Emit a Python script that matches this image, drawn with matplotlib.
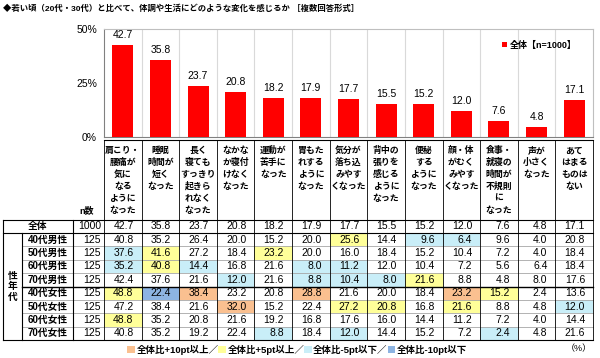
import matplotlib
matplotlib.use("Agg")
import matplotlib.pyplot as plt
from matplotlib.patches import Rectangle, Patch

FONT = ['Liberation Sans', 'Noto Sans CJK JP']
plt.rcParams['font.family'] = FONT

# ---- data ----
title = "◆若い頃（20代・30代）と比べて、体調や生活にどのような変化を感じるか ［複数回答形式］"
categories = [
    "肩こり・\n腰痛が\n気に\nなる\nように\nなった",
    "睡眠\n時間が\n短く\nなった",
    "長く\n寝ても\nすっきり\n起きら\nれなく\nなった",
    "なかな\nか寝付\nけなく\nなった",
    "運動が\n苦手に\nなった",
    "胃もた\nれする\nように\nなった",
    "気分が\n落ち込\nみやす\nくなった",
    "背中の\n張りを\n感じる\nように\nなった",
    "便秘\nする\nように\nなった",
    "顔・体\nがむく\nみやす\nくなった",
    "食事・\n就寝の\n時間が\n不規則\nに\nなった",
    "声が\n小さく\nなった",
    "あて\nはまる\nものは\nない",
]
total_label = "全体"
total_n = 1000
total = [42.7, 35.8, 23.7, 20.8, 18.2, 17.9, 17.7, 15.5, 15.2, 12.0, 7.6, 4.8, 17.1]
legend_label = "全体【n=1000】"

group_title = "性年代"
groups = ["40代男性", "50代男性", "60代男性", "70代男性",
          "40代女性", "50代女性", "60代女性", "70代女性"]
group_n = [125, 125, 125, 125, 125, 125, 125, 125]
m40 = [40.8, 35.2, 26.4, 20.0, 15.2, 20.0, 25.6, 14.4, 9.6, 6.4, 9.6, 4.0, 20.8]
m50 = [37.6, 41.6, 27.2, 18.4, 23.2, 20.0, 16.0, 18.4, 15.2, 10.4, 7.2, 4.0, 18.4]
m60 = [35.2, 40.8, 14.4, 16.8, 21.6, 8.0, 11.2, 12.0, 10.4, 7.2, 5.6, 6.4, 18.4]
m70 = [42.4, 37.6, 21.6, 12.0, 21.6, 8.8, 10.4, 8.0, 21.6, 8.8, 4.8, 8.0, 17.6]
f40 = [48.8, 22.4, 38.4, 23.2, 20.8, 28.8, 21.6, 20.0, 18.4, 23.2, 15.2, 2.4, 13.6]
f50 = [47.2, 38.4, 21.6, 32.0, 15.2, 22.4, 27.2, 20.8, 16.8, 21.6, 8.8, 4.8, 12.0]
f60 = [48.8, 35.2, 20.8, 21.6, 19.2, 16.8, 17.6, 16.0, 14.4, 11.2, 7.2, 4.0, 14.4]
f70 = [40.8, 35.2, 19.2, 22.4, 8.8, 18.4, 12.0, 14.4, 15.2, 7.2, 2.4, 4.8, 21.6]
group_values = [m40, m50, m60, m70, f40, f50, f60, f70]

cell_legend = ["全体比+10pt以上／", "全体比+5pt以上／", "全体比-5pt以下／", "全体比-10pt以下"]
unit_label = "（%）"

ORANGE = '#FAC090'
YELLOW = '#FFFF99'
LBLUE = '#C9EEF8'
BLUE = '#8DB4E2'
legend_colors = [ORANGE, YELLOW, LBLUE, BLUE]


def cell_color(v, base):
    d = round(v - base, 1)
    if d >= 10:
        return ORANGE
    if d >= 5:
        return YELLOW
    if d <= -10:
        return BLUE
    if d <= -5:
        return LBLUE
    return None


# ---- layout (pixels) ----
W, H = 600, 358
PL, PR, PT, PB = 104, 593, 29, 137
ncol = len(total)
colw = (PR - PL) / ncol
head_top = 140
body_top = 219.5
rowh = 13.4
x0, xsub, xn = 3, 22, 73

fig = plt.figure(figsize=(6, 3.58), dpi=100)

# ---- bar chart ----
ax = fig.add_axes([PL / W, 1 - PB / H, (PR - PL) / W, (PB - PT) / H])
bars = ax.bar(range(ncol), total, width=0.56, color='#FF0000', zorder=3)
ax.bar_label(bars, labels=[f"{v:.1f}" for v in total], padding=3.5, fontsize=7.5)
ax.set_xlim(-0.5, ncol - 0.5)
ax.set_ylim(0, 50)
ax.set_yticks([0, 25, 50])
ax.set_yticklabels(["0%", "25%", "50%"])
ax.tick_params(axis='y', length=0, pad=5, labelsize=7.5)
ax.set_xticks([])
for k in range(1, ncol):
    ax.axvline(k - 0.5, color='#D9D9D9', lw=0.8, zorder=1)
for s in ['left', 'bottom']:
    ax.spines[s].set_color('#808080')
for s in ['top', 'right']:
    ax.spines[s].set_color('#BFBFBF')
ax.legend([bars], [legend_label], loc='center right', bbox_to_anchor=(0.975, 0.85),
          frameon=False, handlelength=0.55, handleheight=0.55, handletextpad=0.3,
          borderpad=0, prop={'family': FONT, 'weight': 'bold', 'size': 6.5})

fig.text(3 / W, 1 - 9 / H, title, fontsize=6.0, fontweight='bold', va='center', ha='left')

# ---- table (pixel overlay) ----
tax = fig.add_axes([0, 0, 1, 1])
tax.set_xlim(0, W)
tax.set_ylim(H, 0)
tax.axis('off')

# header text
for j, cat in enumerate(categories):
    cx = PL + (j + 0.5) * colw
    for i, line in enumerate(cat.split("\n")):
        tax.text(cx, 150.5 + i * 11.9, line, ha='center', va='center',
                 fontsize=6.4, fontweight='bold')
tax.text(86.5, 211, "n数", ha='center', va='center', fontsize=6.5, fontweight='bold')

rows = [(total_label, total_n, total)] + list(zip(groups, group_n, group_values))
for r, (label, n, vals) in enumerate(rows):
    ytop = body_top + r * rowh
    yc = ytop + rowh / 2
    if r == 0:
        tax.text((x0 + xn) / 2, yc, label, ha='center', va='center', fontsize=7, fontweight='bold')
    else:
        tax.text((xsub + xn) / 2, yc, label, ha='center', va='center', fontsize=7, fontweight='bold')
    tax.text(PL - 3, yc, str(n), ha='right', va='center', fontsize=7.5)
    for j, v in enumerate(vals):
        xl = PL + j * colw
        if r > 0:
            c = cell_color(v, total[j])
            if c:
                tax.add_patch(Rectangle((xl, ytop), colw, rowh, facecolor=c, edgecolor='none', zorder=1))
        tax.text(xl + colw - 8, yc, f"{v:.1f}", ha='right', va='center', fontsize=7.5, zorder=3)

# group title (vertical)
gmid = body_top + rowh + len(groups) * rowh / 2
for i, ch in enumerate(group_title):
    tax.text((x0 + xsub) / 2, gmid + (i - 1) * 10, ch, ha='center', va='center',
             fontsize=7, fontweight='bold')

body_bot = body_top + len(rows) * rowh
# grid lines
for r in range(2, len(rows)):
    y = body_top + r * rowh
    if r == 5:
        tax.plot([xsub, PR], [y, y], color='black', lw=1.0, zorder=4)
    else:
        tax.plot([xsub, PR], [y, y], color='#A6A6A6', lw=0.6, zorder=2)
for y in [body_top, body_top + rowh, body_bot]:
    tax.plot([x0, PR], [y, y], color='black', lw=0.8, zorder=4)
tax.plot([PL, PR], [head_top, head_top], color='black', lw=0.8, zorder=4)
for j in range(ncol + 1):
    x = PL + j * colw
    tax.plot([x, x], [head_top, body_bot], color='black', lw=0.6, zorder=4)
for x in [x0, xn]:
    tax.plot([x, x], [body_top, body_bot], color='black', lw=0.8, zorder=4)
tax.plot([xsub, xsub], [body_top + rowh, body_bot], color='black', lw=0.8, zorder=4)

# bottom legend
handles = [Patch(facecolor=c, edgecolor='none') for c in legend_colors]
fig.legend(handles, cell_legend, ncol=4, loc='center right',
           bbox_to_anchor=(467 / W, 1 - 350 / H), frameon=False,
           columnspacing=0.0, handletextpad=0.15, handlelength=0.8, handleheight=0.8,
           borderpad=0, borderaxespad=0,
           prop={'family': FONT, 'weight': 'bold', 'size': 6.8})
tax.text(592, 349, unit_label, ha='right', va='center', fontsize=6.5)

fig.savefig("out.png", dpi=100)
